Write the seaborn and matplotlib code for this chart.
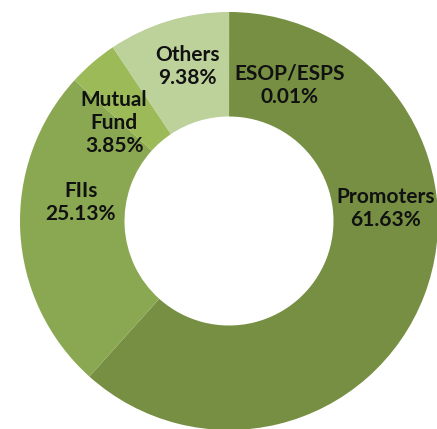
import matplotlib
matplotlib.use("Agg")
import matplotlib.pyplot as plt
import seaborn as sns

# shareholding pattern
categories = ["ESOP/ESPS", "Promoters", "FIIs", "Mutual\nFund", "Others"]
shares = [0.01, 61.63, 25.13, 3.85, 9.38]
pct_labels = ["0.01%", "61.63%", "25.13%", "3.85%", "9.38%"]

colors = sns.color_palette(["#6f8a3a", "#768f42", "#8aa852", "#9cba58", "#bdd19b"])

# where Excel put each label (fraction of outer radius)
label_pos = [(0.29, 0.65), (0.75, 0.06), (-0.71, 0.09), (-0.55, 0.47), (-0.20, 0.74)]

sns.set_theme(style="white")
plt.rcParams["font.family"] = ["Lato", "DejaVu Sans"]

fig = plt.figure(figsize=(4.37, 4.29), dpi=100)
ax = fig.add_axes([20 / 437, -1 / 429, 418 / 437, 418 / 429])

ax.pie(shares, colors=colors, startangle=90, counterclock=False,
       wedgeprops=dict(width=0.5, linewidth=0))

for cat, pct, (x, y) in zip(categories, pct_labels, label_pos):
    ax.text(x, y, f"{cat}\n{pct}", ha="center", va="center",
            fontsize=15, fontweight="bold", color="#111111", linespacing=1.2)

ax.set_xlim(-1, 1)
ax.set_ylim(-1, 1)
ax.set_axis_off()

fig.savefig("out.png", dpi=100)
